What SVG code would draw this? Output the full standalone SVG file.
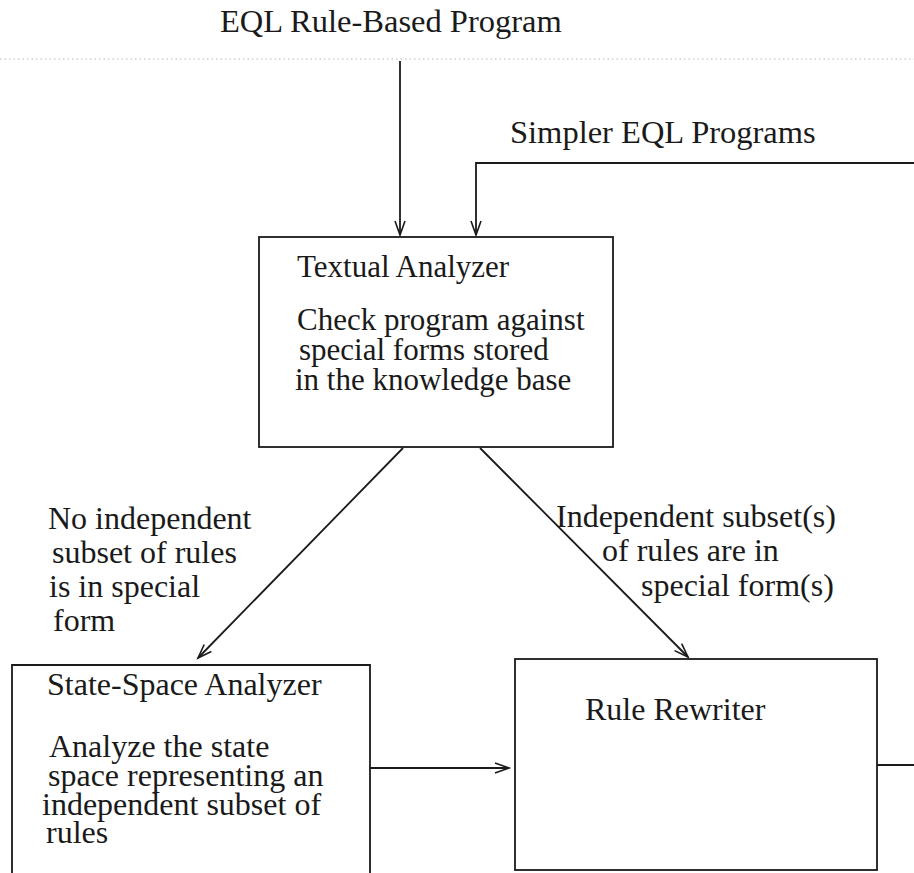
<svg xmlns="http://www.w3.org/2000/svg" width="914" height="873" viewBox="0 0 914 873">
<style>
.t{font-family:"Liberation Serif","Times New Roman",serif;font-size:32px;fill:#1a1a1a}
.big{font-size:32.5px}
.sm{font-size:31px}
.box{fill:none;stroke:#1a1a1a;stroke-width:1.8}
.c{fill:none;stroke:#1a1a1a;stroke-width:1.8}
</style>
<defs>
<marker id="ah" markerUnits="userSpaceOnUse" markerWidth="20" markerHeight="14" viewBox="-16 -7 18 14" refX="0" refY="0" orient="auto">
<path d="M-14,-5 L0,0 L-14,5" fill="none" stroke="#1a1a1a" stroke-width="1.6"/>
</marker>
</defs>
<rect width="914" height="873" fill="#fff"/>
<line x1="0" y1="59" x2="914" y2="59" stroke="#b8b8b8" stroke-width="1" stroke-dasharray="1.5 3"/>
<text class="t big" x="220" y="32">EQL Rule-Based Program</text>
<text class="t big" x="510" y="143">Simpler EQL Programs</text>
<g id="connectors">
<path class="c" d="M400,61 V235" marker-end="url(#ah)"/>
<path class="c" d="M914,163 H476 V235" marker-end="url(#ah)"/>
<path class="c" d="M403,448 L198,658" marker-end="url(#ah)"/>
<path class="c" d="M480,448 L688,657" marker-end="url(#ah)"/>
<path class="c" d="M370,768 H509" marker-end="url(#ah)"/>
<path class="c" d="M877,765 H914"/>
</g>
<g id="label-no">
<text class="t" x="48" y="529">No independent</text>
<text class="t" x="52" y="563">subset of rules</text>
<text class="t" x="49" y="597">is in special</text>
<text class="t" x="53" y="631">form</text>
</g>
<g id="label-yes">
<text class="t" x="556" y="527">Independent subset(s)</text>
<text class="t" x="602" y="561">of rules are in</text>
<text class="t" x="641" y="596">special form(s)</text>
</g>
<g id="textual-analyzer">
<rect class="box" x="259" y="237" width="354" height="210"/>
<text class="t sm" x="297" y="277">Textual Analyzer</text>
<text class="t sm" x="297" y="330">Check program against</text>
<text class="t sm" x="299" y="360">special forms stored</text>
<text class="t sm" x="295" y="390">in the knowledge base</text>
</g>
<g id="state-space-analyzer">
<path class="box" d="M12,880 V665 H370 V880"/>
<text class="t" x="47" y="695">State-Space Analyzer</text>
<text class="t" x="49" y="757">Analyze the state</text>
<text class="t" x="48" y="786">space representing an</text>
<text class="t" x="42" y="815">independent subset of</text>
<text class="t" x="46" y="843">rules</text>
</g>
<g id="rule-rewriter">
<rect class="box" x="515" y="659" width="362" height="211"/>
<text class="t" x="585" y="720">Rule Rewriter</text>
</g>
</svg>
